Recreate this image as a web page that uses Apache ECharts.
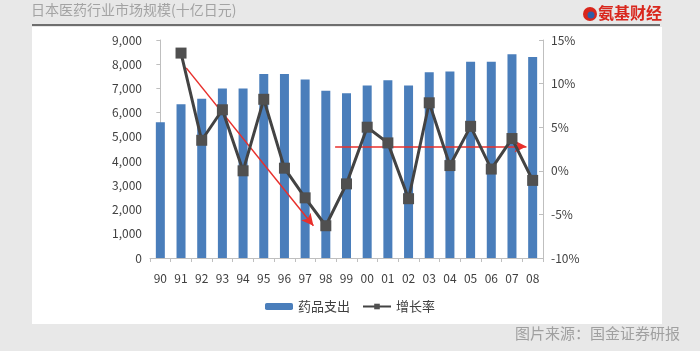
<!DOCTYPE html>
<html>
<head>
<meta charset="utf-8">
<script src="https://cdn.jsdelivr.net/npm/echarts@6/dist/echarts.min.js"></script>
<style>
  html, body { margin: 0; padding: 0; background: #e8e8e8; }
  #main { width: 700px; height: 351px; }
</style>
</head>
<body>
<div id="main"></div>
<script>
// 年份
const years = ['90', '91', '92', '93', '94', '95', '96', '97', '98', '99',
  '00', '01', '02', '03', '04', '05', '06', '07', '08'];
// 药品支出（十亿日元）
const spending = [5600, 6350, 6570, 7000, 7000, 7600, 7600, 7370, 6900, 6800,
  7120, 7340, 7120, 7670, 7700, 8100, 8100, 8410, 8300];
// 增长率 %
const growth = [null, 13.5, 3.5, 7.0, 0.0, 8.2, 0.3, -3.1, -6.3, -1.5,
  5.0, 3.2, -3.2, 7.8, 0.6, 5.1, 0.2, 3.7, -1.1];
// 趋势箭头 [起点, 终点]，x 为年份序号，y 为增长率
const trendArrows = [
  [[1.25, 11.8], [7.4, -6.3]],
  [[8.45, 2.8], [17.7, 2.8]]
];

const FONT = '"Noto Sans CJK SC", "Noto Sans", sans-serif';

let myChart = echarts.init(document.getElementById('main'));

let option = {
  backgroundColor: '#e8e8e8',
  animation: false,
  textStyle: { fontFamily: FONT },
  graphic: [
    // 白色底板
    { type: 'rect', z: -10, shape: { x: 32, y: 27, width: 630, height: 297 },
      style: { fill: '#ffffff' } },
    // 标题下横线
    { type: 'line', shape: { x1: 32, y1: 25, x2: 660, y2: 25 },
      style: { stroke: '#6e6e6e', lineWidth: 2 } },
    { type: 'text', left: 31, top: 3,
      style: { text: '日本医药行业市场规模(十亿日元)', fill: '#a3a3a3', font: '14px ' + FONT } },
    // logo
    { type: 'circle', shape: { cx: 590, cy: 14, r: 7 }, style: { fill: '#d9261c' } },
    { type: 'circle', shape: { cx: 591, cy: 15, r: 3.5 }, style: { fill: '#2f5ea8' } },
    { type: 'text', left: 598, top: 5,
      style: { text: '氨基财经', fill: '#d9261c', font: 'bold 16px ' + FONT } },
    { type: 'text', left: 515, top: 326,
      style: { text: '图片来源：国金证券研报', fill: '#a0a0a0', font: '15px ' + FONT } }
  ],
  legend: {
    data: ['药品支出', '增长率'],
    top: 295,
    left: 'center',
    itemWidth: 28,
    itemHeight: 7,
    itemGap: 12,
    textStyle: { color: '#404040', fontSize: 13, fontFamily: FONT }
  },
  grid: { left: 150, right: 157, top: 40, bottom: 93 },
  xAxis: [
    {
      type: 'category',
      data: years,
      axisLine: { lineStyle: { color: '#bfbfbf' } },
      axisTick: { show: true, alignWithLabel: false, length: 4, lineStyle: { color: '#bfbfbf' } },
      axisLabel: { color: '#404040', fontSize: 12, margin: 14 }
    },
    { type: 'value', min: -0.5, max: 18.5, show: false }
  ],
  yAxis: [
    {
      type: 'value',
      min: 0, max: 9000, interval: 1000,
      axisLine: { show: true, lineStyle: { color: '#bfbfbf' } },
      axisTick: { show: true, length: 4, lineStyle: { color: '#bfbfbf' } },
      splitLine: { show: false },
      axisLabel: {
        color: '#404040', fontSize: 12, margin: 8,
        formatter: function (v) { return v.toLocaleString('en-US'); }
      }
    },
    {
      type: 'value',
      min: -10, max: 15, interval: 5,
      axisLine: { show: true, lineStyle: { color: '#bfbfbf' } },
      axisTick: { show: true, length: 4, inside: true, lineStyle: { color: '#bfbfbf' } },
      splitLine: { show: false },
      axisLabel: { color: '#404040', fontSize: 12, margin: 8, formatter: '{value}%' }
    }
  ],
  series: [
    {
      name: '药品支出',
      type: 'bar',
      data: spending,
      barWidth: 9,
      itemStyle: { color: '#4a7ebb' }
    },
    {
      name: '增长率',
      type: 'line',
      yAxisIndex: 1,
      data: growth,
      symbol: 'rect',
      symbolSize: 11,
      z: 5,
      lineStyle: { color: '#434343', width: 3 },
      itemStyle: { color: '#505050' }
    },
    {
      name: 'arrows',
      type: 'line',
      xAxisIndex: 1,
      yAxisIndex: 1,
      data: [],
      z: 4,
      markLine: {
        silent: true,
        symbol: ['none', 'arrow'],
        symbolSize: [9, 12],
        label: { show: false },
        lineStyle: { color: '#e8302c', width: 1.5, type: 'solid' },
        data: trendArrows.map(function (a) {
          return [{ coord: a[0] }, { coord: a[1] }];
        })
      }
    }
  ]
};

myChart.setOption(option);
</script>
</body>
</html>
